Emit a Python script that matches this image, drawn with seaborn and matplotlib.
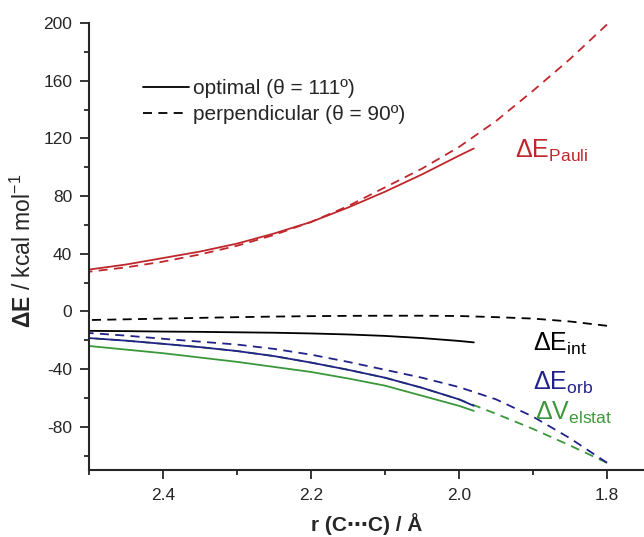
import matplotlib
matplotlib.use("Agg")
import matplotlib.pyplot as plt
from matplotlib.lines import Line2D
from matplotlib.ticker import MultipleLocator
import seaborn as sns
import pandas as pd

# ---------------- data ----------------
r_opt = [2.50, 2.45, 2.40, 2.35, 2.30, 2.25, 2.20, 2.15, 2.10, 2.05, 2.00, 1.98]
r_perp = [2.50, 2.45, 2.40, 2.35, 2.30, 2.25, 2.20, 2.15, 2.10, 2.05, 2.00, 1.95, 1.90, 1.85, 1.80]

pauli_opt = [29, 32.5, 37, 41.5, 47, 54, 62, 72, 83, 95, 108, 113]
pauli_perp = [27.5, 30.5, 34.5, 39.5, 45.5, 53, 62, 73, 86, 99, 114, 132, 153, 175, 199]
int_opt = [-13.5, -13.7, -14, -14.2, -14.5, -14.8, -15.3, -16, -17, -18.5, -20.5, -21.5]
int_perp = [-6, -5.5, -5, -4.5, -4, -3.6, -3.3, -3.1, -3, -3, -3.2, -4, -5, -7, -10]
orb_opt = [-18.5, -20.3, -22.5, -24.8, -27.5, -31, -35.5, -40.5, -46, -53, -61, -65.5]
orb_perp = [-15, -16.8, -19, -21, -23, -26, -30, -35, -40.5, -46, -52.5, -61, -73, -88, -105]
elstat_opt = [-24, -26.5, -29, -32, -35, -38.5, -42, -46.5, -51.5, -58.5, -65.5, -69]
elstat_perp = [-18.5, -20.3, -22.5, -24.8, -27.5, -31, -35.5, -40.5, -46, -53, -61, -71, -81.5, -93, -105]

x_ticks = [2.4, 2.2, 2.0, 1.8]
x_tick_labels = ["2.4", "2.2", "2.0", "1.8"]
y_ticks = [-80, -40, 0, 40, 80, 120, 160, 200]
y_tick_labels = ["-80", "-40", "0", "40", "80", "120", "160", "200"]

legend_labels = ["optimal (θ = 111º)", "perpendicular (θ = 90º)"]
term_labels = [r"$\Delta\mathrm{E}_{\mathrm{Pauli}}$", r"$\Delta\mathrm{E}_{\mathrm{int}}$",
               r"$\Delta\mathrm{E}_{\mathrm{orb}}$", r"$\Delta\mathrm{V}_{\mathrm{elstat}}$"]

# ---------------- style ----------------
sns.set_style("ticks")
plt.rcParams["font.family"] = ["Liberation Sans", "DejaVu Sans"]
plt.rcParams["mathtext.fontset"] = "custom"
plt.rcParams["mathtext.rm"] = "Liberation Sans"
plt.rcParams["mathtext.it"] = "Liberation Sans:italic"
plt.rcParams["mathtext.bf"] = "Liberation Sans:bold"
plt.rcParams["axes.unicode_minus"] = False

RED = "#c0272d"
BLUE = "#222288"
GREEN = "#3a983a"
BLACK = "#000000"

fig = plt.figure(figsize=(6.44, 5.37), dpi=100)
ax = fig.add_axes([89 / 644, 1 - 470 / 537, 555 / 644, 447 / 537])

DASH = (0, (5, 3.5))
LW = 1.3

series = [
    (r_perp, elstat_perp, GREEN, DASH),
    (r_perp, orb_perp, BLUE, DASH),
    (r_perp, int_perp, BLACK, DASH),
    (r_perp, pauli_perp, RED, DASH),
    (r_opt, elstat_opt, GREEN, "-"),
    (r_opt, orb_opt, BLUE, "-"),
    (r_opt, int_opt, BLACK, "-"),
    (r_opt, pauli_opt, RED, "-"),
]
for xs, ys, col, ls in series:
    df = pd.DataFrame({"r": xs, "E": ys})
    sns.lineplot(data=df, x="r", y="E", ax=ax, color=col, linestyle=ls,
                 linewidth=LW, estimator=None, errorbar=None, sort=True)

ax.set_xlim(2.5, 1.75)
ax.set_ylim(-110, 200)
ax.set_xticks(x_ticks)
ax.set_xticklabels(x_tick_labels)
ax.set_yticks(y_ticks)
ax.set_yticklabels(y_tick_labels)
ax.xaxis.set_minor_locator(MultipleLocator(0.1))
ax.yaxis.set_minor_locator(MultipleLocator(20))

for s in ["top", "right"]:
    ax.spines[s].set_visible(False)
for s in ["left", "bottom"]:
    ax.spines[s].set_linewidth(1.5)
ax.tick_params(which="major", direction="out", length=6.5, width=1.3, labelsize=12.5)
ax.tick_params(axis="y", which="major", pad=5.5)
ax.tick_params(axis="x", which="major", pad=6.5)
ax.tick_params(which="minor", direction="out", length=3.5, width=1.3)

ax.set_xlabel("r (C\u22efC) / Å", fontsize=15, fontweight="bold")
ax.xaxis.label.set_va("baseline")
ax.xaxis.set_label_coords(0.5, -(531 - 470) / 447)
ax.set_ylabel(r"$\mathbf{\Delta E}$ / kcal mol$^{-1}$", fontsize=16.5)
ax.yaxis.set_label_coords(-(89 - 36) / 555, 0.49)

handles = [Line2D([], [], color=BLACK, lw=LW, ls="-"),
           Line2D([], [], color=BLACK, lw=LW, ls=DASH)]
ax.legend(handles, legend_labels, loc="upper left",
          bbox_to_anchor=((143 - 89) / 555, (470 - 79) / 447),
          frameon=False, fontsize=15, handlelength=2.2, handletextpad=0.2,
          borderaxespad=0, borderpad=0, labelspacing=0.35)

label_colors = [RED, BLACK, BLUE, GREEN]
label_pos = [(515, 158), (533, 351), (533, 390), (535, 420)]
for txt, col, (px, py) in zip(term_labels, label_colors, label_pos):
    ax.text(px / 644, 1 - py / 537, txt, color=col, fontsize=18,
            transform=fig.transFigure, ha="left", va="baseline")

fig.savefig("out.png", dpi=100)
